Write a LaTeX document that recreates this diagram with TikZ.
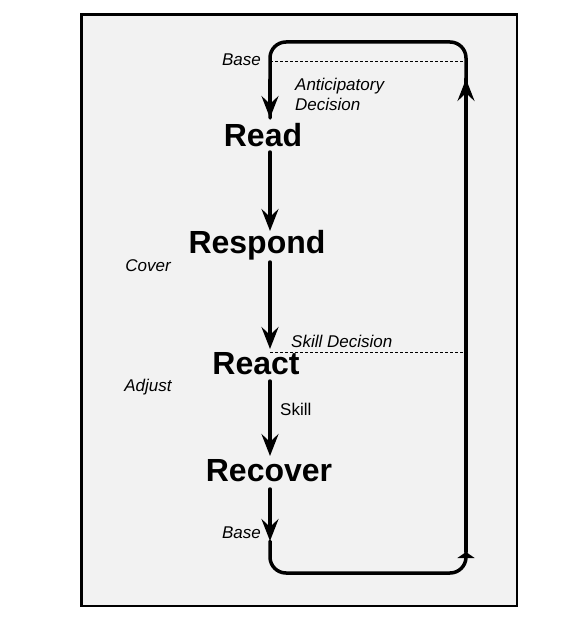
\documentclass[tikz,border=0pt]{standalone}
\usepackage{fontspec}
\setmainfont{Liberation Sans}
\usetikzlibrary{arrows.meta}
\definecolor{panel}{HTML}{F2F2F2}
\tikzset{
  big/.style={font=\fontsize{32}{32}\selectfont\bfseries, inner sep=0pt},
  lab/.style={font=\fontsize{17}{20}\selectfont\itshape, inner sep=0pt},
  plain/.style={font=\fontsize{17}{20}\selectfont, inner sep=0pt},
  flow/.style={line width=3.5pt, line cap=round},
  arr/.style={-{Stealth[length=22pt,width=17pt,inset=8pt]}},
  thindash/.style={line width=0.7pt, dash pattern=on 3pt off 2pt},
}
\begin{document}
\begin{tikzpicture}[x=1pt,y=-1pt]
\useasboundingbox (0,0) rectangle (580,618);
\draw[line width=2.5pt, fill=panel] (81.5,14.5) rectangle (517,606);

% nodes
\node[big] (read) at (263,135) {Read};
\node[big] (respond) at (257,245) {Respond};
\node[big] (react) at (256,364) {React};
\node[big] (recover) at (269,471) {Recover};

\node[lab, anchor=east] (base1) at (261,60) {Base};
\node[lab, anchor=west, align=left] (antic) at (295,94) {Anticipatory\\Decision};
\node[lab] (cover) at (148,266) {Cover};
\node[lab, anchor=west] (skilldec) at (291,341) {Skill Decision};
\node[lab] (adjust) at (148,387) {Adjust};
\node[plain, anchor=west] (skill) at (280,409) {Skill};
\node[lab, anchor=east] (base2) at (261,533) {Base};

% coordinates of the loop
\coordinate (tl) at (270,42);
\coordinate (tr) at (466,42);
\coordinate (br) at (466,573);
\coordinate (bl) at (270,573);
\coordinate (readtop) at (270,118);
\coordinate (readbot) at (270,152);
\coordinate (resptop) at (270,231);
\coordinate (respbot) at (270,262);
\coordinate (reacttop) at (270,349);
\coordinate (reactbot) at (270,381);
\coordinate (rectop) at (270,456);
\coordinate (recbot) at (270,489);
\coordinate (basetip) at (270,541);
\coordinate (uptip1) at (466,552);
\coordinate (uptip2) at (466,79);

% dashed lines
\draw[thindash] (270,61) -- (466,61);
\draw[thindash] (270,352) -- (466,352);

% loop
\draw[flow, rounded corners=16pt, -{Triangle[length=6pt,width=17pt]}] (basetip) -- (bl) -- (br) -- (uptip1);
\draw[flow, rounded corners=16pt] (uptip2) -- (tr) -- (tl) -- (readtop);
\draw[flow] (uptip1) -- (uptip2);
\draw[flow, arr] (270,80) -- (readtop);
\draw[flow, arr] (readbot) -- (resptop);
\draw[flow, arr] (respbot) -- (reacttop);
\draw[flow, arr] (reactbot) -- (rectop);
\draw[flow, arr] (recbot) -- (basetip);
\draw[flow, arr] (466,120) -- (uptip2);
\end{tikzpicture}
\end{document}
